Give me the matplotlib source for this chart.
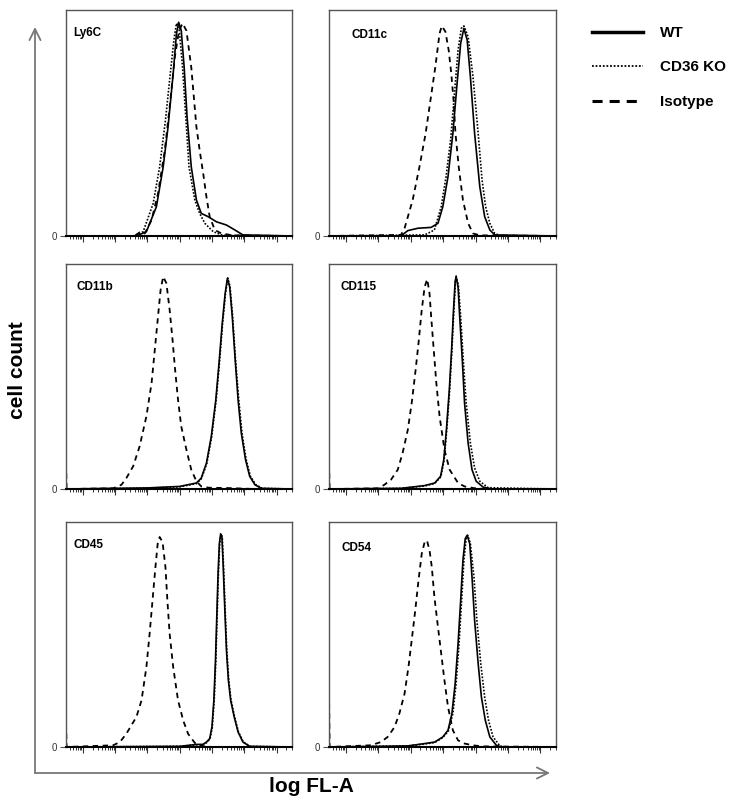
import numpy as np
import matplotlib
matplotlib.use("Agg")
from matplotlib import pyplot as plt
from matplotlib.lines import Line2D
from matplotlib.ticker import LogLocator, NullFormatter

plt.rcParams['font.family'] = ['Liberation Sans', 'DejaVu Sans']

# x values are log10 fluorescence, y values are relative cell count
LY6C_WT_X = [-0.52, 1.66, 1.97, 2.28, 2.49, 2.64, 2.80, 2.90, 2.97, 3.05, 3.14, 3.23, 3.36, 3.52, 3.67, 3.88, 4.14, 4.45, 4.71, 4.96, 6.48]
LY6C_WT_Y = [0, 0, 0.02, 0.136, 0.321, 0.506, 0.754, 0.939, 0.993, 0.954, 0.784, 0.553, 0.321, 0.167, 0.105, 0.090, 0.066, 0.051, 0.028, 0.005, 0]
LY6C_KO_X = [-0.52, 1.56, 1.87, 2.18, 2.38, 2.56, 2.71, 2.82, 2.90, 2.98, 3.09, 3.19, 3.29, 3.47, 3.62, 3.78, 4.04, 4.34, 6.48]
LY6C_KO_Y = [0, 0, 0.02, 0.151, 0.321, 0.537, 0.754, 0.908, 0.988, 0.97, 0.784, 0.553, 0.321, 0.167, 0.105, 0.059, 0.02, 0.003, 0]
LY6C_ISO_X = [-0.52, 1.61, 1.76, 1.92, 2.13, 2.33, 2.54, 2.69, 2.85, 2.98, 3.09, 3.21, 3.36, 3.52, 3.62, 3.73, 3.83, 3.93, 4.09, 4.29, 4.65, 6.48]
LY6C_ISO_Y = [0, 0, 0.017, 0.012, 0.074, 0.198, 0.398, 0.599, 0.831, 0.954, 0.988, 0.954, 0.784, 0.506, 0.398, 0.290, 0.182, 0.090, 0.028, 0.012, 0.003, 0]

CD11C_WT_X = [-0.52, 1.70, 1.91, 2.22, 2.63, 2.84, 2.99, 3.15, 3.30, 3.43, 3.54, 3.64, 3.74, 3.84, 3.97, 4.13, 4.28, 4.44, 4.59, 6.48]
CD11C_WT_Y = [0, 0, 0.025, 0.036, 0.040, 0.059, 0.136, 0.276, 0.477, 0.709, 0.895, 0.965, 0.911, 0.740, 0.477, 0.229, 0.090, 0.028, 0.005, 0]
CD11C_KO_X = [-0.52, 2.43, 2.73, 2.94, 3.09, 3.23, 3.35, 3.46, 3.56, 3.64, 3.77, 3.92, 4.08, 4.20, 4.31, 4.44, 4.59, 4.75, 6.48]
CD11C_KO_Y = [0, 0.005, 0.028, 0.136, 0.276, 0.446, 0.663, 0.864, 0.965, 0.976, 0.926, 0.740, 0.477, 0.260, 0.136, 0.059, 0.012, 0.002, 0]
CD11C_ISO_X = [-0.52, 1.70, 1.81, 2.06, 2.27, 2.46, 2.61, 2.76, 2.89, 2.96, 3.07, 3.17, 3.25, 3.32, 3.38, 3.48, 3.61, 3.77, 3.92, 4.13, 6.48]
CD11C_ISO_Y = [0, 0.005, 0.036, 0.167, 0.322, 0.477, 0.632, 0.787, 0.942, 0.976, 0.949, 0.864, 0.756, 0.632, 0.477, 0.322, 0.167, 0.059, 0.012, 0.003, 0]

CD11B_WT_X = [-0.52, 2.0, 3.0, 3.52, 3.67, 3.83, 3.98, 4.12, 4.22, 4.32, 4.41, 4.48, 4.55, 4.63, 4.72, 4.81, 4.91, 5.04, 5.17, 5.33, 5.53, 6.48]
CD11B_WT_Y = [0, 0.005, 0.012, 0.028, 0.051, 0.121, 0.245, 0.416, 0.587, 0.774, 0.913, 0.983, 0.944, 0.805, 0.603, 0.416, 0.261, 0.137, 0.059, 0.020, 0.003, 0]
CD11B_KO_X = [-0.52, 2.0, 3.0, 3.52, 3.67, 3.84, 3.99, 4.13, 4.23, 4.33, 4.42, 4.49, 4.56, 4.64, 4.73, 4.83, 4.93, 5.06, 5.19, 5.36, 5.56, 6.48]
CD11B_KO_Y = [0, 0.004, 0.010, 0.025, 0.048, 0.118, 0.242, 0.414, 0.585, 0.772, 0.912, 0.985, 0.945, 0.806, 0.605, 0.418, 0.262, 0.138, 0.060, 0.020, 0.003, 0]
CD11B_ISO_X = [-0.52, -0.50, 0.94, 1.20, 1.35, 1.56, 1.76, 1.97, 2.13, 2.23, 2.33, 2.41, 2.49, 2.59, 2.69, 2.78, 2.85, 2.95, 3.05, 3.21, 3.36, 3.52, 3.67, 3.90, 4.60, 5.30, 6.48]
CD11B_ISO_Y = [0.12, 0, 0.003, 0.020, 0.051, 0.106, 0.199, 0.339, 0.494, 0.649, 0.805, 0.929, 0.991, 0.960, 0.836, 0.696, 0.572, 0.416, 0.292, 0.183, 0.090, 0.036, 0.012, 0.006, 0.004, 0, 0]

CD115_WT_X = [-0.52, 1.70, 2.43, 2.74, 2.92, 3.02, 3.10, 3.19, 3.26, 3.32, 3.37, 3.40, 3.46, 3.51, 3.59, 3.66, 3.77, 3.89, 4.02, 4.23, 4.50, 6.48]
CD115_WT_Y = [0, 0.003, 0.016, 0.028, 0.059, 0.137, 0.276, 0.463, 0.649, 0.836, 0.968, 0.991, 0.944, 0.805, 0.603, 0.401, 0.214, 0.090, 0.036, 0.009, 0, 0]
CD115_KO_X = [-0.52, 1.70, 2.43, 2.74, 2.93, 3.03, 3.11, 3.20, 3.27, 3.33, 3.38, 3.40, 3.47, 3.54, 3.62, 3.71, 3.84, 3.97, 4.13, 4.39, 6.48]
CD115_KO_Y = [0, 0.003, 0.014, 0.026, 0.057, 0.135, 0.274, 0.461, 0.647, 0.834, 0.966, 0.994, 0.950, 0.805, 0.603, 0.401, 0.214, 0.098, 0.036, 0.006, 0]
CD115_ISO_X = [-0.52, -0.50, 1.00, 1.19, 1.39, 1.60, 1.75, 1.91, 2.03, 2.14, 2.24, 2.34, 2.43, 2.51, 2.58, 2.63, 2.71, 2.79, 2.89, 3.04, 3.20, 3.46, 3.66, 3.95, 4.30, 6.48]
CD115_ISO_Y = [0.12, 0, 0.003, 0.020, 0.043, 0.090, 0.168, 0.276, 0.401, 0.541, 0.680, 0.836, 0.944, 0.979, 0.913, 0.805, 0.649, 0.494, 0.339, 0.183, 0.090, 0.028, 0.012, 0.004, 0, 0]

CD45_WT_X = [-0.52, 3.00, 3.52, 3.72, 3.83, 3.93, 4.00, 4.06, 4.11, 4.15, 4.19, 4.23, 4.27, 4.31, 4.35, 4.40, 4.45, 4.51, 4.58, 4.69, 4.81, 4.96, 5.17, 6.48]
CD45_WT_Y = [0, 0.003, 0.012, 0.012, 0.023, 0.039, 0.093, 0.218, 0.404, 0.607, 0.809, 0.949, 0.995, 0.980, 0.840, 0.638, 0.451, 0.311, 0.218, 0.140, 0.070, 0.023, 0.003, 0]
CD45_KO_X = [-0.52, 3.00, 3.53, 3.73, 3.84, 3.94, 4.01, 4.07, 4.12, 4.16, 4.20, 4.24, 4.28, 4.32, 4.36, 4.41, 4.46, 4.52, 4.59, 4.70, 4.82, 4.97, 5.18, 6.48]
CD45_KO_Y = [0, 0.003, 0.010, 0.011, 0.021, 0.037, 0.090, 0.215, 0.402, 0.605, 0.807, 0.948, 0.995, 0.981, 0.842, 0.640, 0.453, 0.313, 0.220, 0.142, 0.071, 0.024, 0.003, 0]
CD45_ISO_X = [-0.52, -0.50, 0.94, 1.15, 1.35, 1.66, 1.82, 1.97, 2.07, 2.16, 2.25, 2.32, 2.38, 2.47, 2.56, 2.62, 2.69, 2.80, 2.95, 3.11, 3.26, 3.47, 3.67, 4.00, 6.48]
CD45_ISO_Y = [0.11, 0, 0.008, 0.023, 0.062, 0.140, 0.218, 0.373, 0.529, 0.684, 0.840, 0.949, 0.980, 0.957, 0.840, 0.684, 0.529, 0.373, 0.218, 0.124, 0.062, 0.019, 0.005, 0, 0]

CD54_WT_X = [-0.52, 1.91, 2.43, 2.74, 2.99, 3.15, 3.27, 3.37, 3.46, 3.54, 3.61, 3.68, 3.74, 3.82, 3.89, 3.97, 4.08, 4.18, 4.30, 4.44, 4.64, 4.80, 6.48]
CD54_WT_Y = [0, 0.005, 0.016, 0.023, 0.047, 0.078, 0.156, 0.296, 0.482, 0.684, 0.871, 0.972, 0.988, 0.949, 0.793, 0.591, 0.389, 0.233, 0.124, 0.047, 0.008, 0, 0]
CD54_KO_X = [-0.52, 1.91, 2.43, 2.74, 2.99, 3.16, 3.30, 3.40, 3.49, 3.57, 3.64, 3.71, 3.76, 3.84, 3.95, 4.04, 4.16, 4.28, 4.40, 4.54, 4.75, 4.90, 6.48]
CD54_KO_Y = [0, 0.005, 0.014, 0.021, 0.044, 0.075, 0.156, 0.296, 0.482, 0.684, 0.871, 0.972, 0.988, 0.949, 0.793, 0.591, 0.389, 0.233, 0.124, 0.047, 0.005, 0, 0]
CD54_ISO_X = [-0.52, -0.50, 0.77, 1.08, 1.29, 1.50, 1.65, 1.81, 1.93, 2.03, 2.14, 2.24, 2.34, 2.43, 2.50, 2.58, 2.65, 2.73, 2.84, 2.94, 3.04, 3.15, 3.30, 3.46, 3.66, 3.92, 4.18, 6.48]
CD54_ISO_Y = [0.25, 0, 0.008, 0.023, 0.047, 0.093, 0.156, 0.249, 0.373, 0.498, 0.638, 0.778, 0.902, 0.957, 0.964, 0.918, 0.840, 0.700, 0.560, 0.436, 0.311, 0.187, 0.078, 0.031, 0.016, 0.008, 0.003, 0]

MARKERS = ["Ly6C", "CD11c", "CD11b", "CD115", "CD45", "CD54"]
SERIES = ["WT", "CD36 KO", "Isotype"]

PANELS = [
    (LY6C_WT_X, LY6C_WT_Y, LY6C_KO_X, LY6C_KO_Y, LY6C_ISO_X, LY6C_ISO_Y),
    (CD11C_WT_X, CD11C_WT_Y, CD11C_KO_X, CD11C_KO_Y, CD11C_ISO_X, CD11C_ISO_Y),
    (CD11B_WT_X, CD11B_WT_Y, CD11B_KO_X, CD11B_KO_Y, CD11B_ISO_X, CD11B_ISO_Y),
    (CD115_WT_X, CD115_WT_Y, CD115_KO_X, CD115_KO_Y, CD115_ISO_X, CD115_ISO_Y),
    (CD45_WT_X, CD45_WT_Y, CD45_KO_X, CD45_KO_Y, CD45_ISO_X, CD45_ISO_Y),
    (CD54_WT_X, CD54_WT_Y, CD54_KO_X, CD54_KO_Y, CD54_ISO_X, CD54_ISO_Y),
]

W, H = 742, 810
LOG_MIN, LOG_MAX = -0.52, 6.48

# panel boxes in pixels: left, top, width, height
COL_LEFT = [66, 329]
COL_WIDTH = [226, 227]
ROW_TOP = [10, 264, 522]
ROW_HEIGHT = [226, 225, 225]
LABEL_POS = [(0.03, 0.90), (0.10, 0.89), (0.045, 0.90), (0.05, 0.90), (0.035, 0.90), (0.057, 0.885)]

STYLE_WT = dict(color='black', lw=1.2, ls='-')
STYLE_KO = dict(color='black', lw=1.2, ls=(0, (1, 1)))
STYLE_ISO = dict(color='black', lw=1.3, ls=(0, (3, 2.5)))


def panel(fig, idx):
    r, c = divmod(idx, 2)
    left = COL_LEFT[c] / W
    bottom = 1 - (ROW_TOP[r] + ROW_HEIGHT[r]) / H
    ax = fig.add_axes([left, bottom, COL_WIDTH[c] / W, ROW_HEIGHT[r] / H])

    wx, wy, kx, ky, ix, iy = PANELS[idx]
    ax.plot(10 ** np.array(ix), iy, **STYLE_ISO)
    ax.plot(10 ** np.array(kx), ky, **STYLE_KO)
    ax.plot(10 ** np.array(wx), wy, **STYLE_WT)

    ax.set_xscale('log')
    ax.set_xlim(10 ** LOG_MIN, 10 ** LOG_MAX)
    ax.set_ylim(0, 1.05)
    ax.xaxis.set_major_locator(LogLocator(base=10, numticks=20))
    ax.xaxis.set_minor_locator(LogLocator(base=10, subs=np.arange(2, 10), numticks=100))
    ax.xaxis.set_major_formatter(NullFormatter())
    ax.xaxis.set_minor_formatter(NullFormatter())
    ax.tick_params(axis='x', which='major', direction='out', length=4, width=0.8, color='#333')
    ax.tick_params(axis='x', which='minor', direction='out', length=2.2, width=0.7, color='#333')
    ax.set_yticks([0])
    ax.set_yticklabels(['0'])
    ax.tick_params(axis='y', length=4.5, width=0.8, color='#555', labelsize=7, labelcolor='#333', pad=2)

    for s in ['left', 'top', 'right']:
        ax.spines[s].set_color('#555')
        ax.spines[s].set_linewidth(1.0)
    ax.spines['bottom'].set_color('black')
    ax.spines['bottom'].set_linewidth(1.5)

    lx, ly = LABEL_POS[idx]
    ax.text(lx, ly, MARKERS[idx], transform=ax.transAxes, fontsize=8.5,
            fontweight='bold', ha='left', va='center')
    return ax


fig = plt.figure(figsize=(W / 100, H / 100), dpi=100)

bg = fig.add_axes([0, 0, 1, 1])
bg.set_xlim(0, W)
bg.set_ylim(H, 0)
bg.axis('off')
arrow = dict(arrowstyle='->', color='#777', lw=1.3, mutation_scale=20, shrinkA=0, shrinkB=0)
bg.annotate('', xy=(35, 27), xytext=(35, 773), arrowprops=arrow)
bg.annotate('', xy=(550, 773), xytext=(35, 773), arrowprops=arrow)

for i in range(6):
    panel(fig, i)

fig.text(18 / W, 1 - 370 / H, 'cell count', rotation=90, ha='center', va='center',
         fontsize=15, fontweight='bold')
fig.text(311 / W, 1 - 787 / H, 'log FL-A', ha='center', va='center',
         fontsize=15, fontweight='bold')

handles = [
    Line2D([], [], color='black', lw=2.5, ls='-'),
    Line2D([], [], color='black', lw=1.3, ls=(0, (1, 1))),
    Line2D([], [], color='black', lw=2.2, ls=(0, (3.3, 2.3))),
]
leg = fig.legend(handles, SERIES, loc='upper left', bbox_to_anchor=(592 / W, 1 - 26 / H),
                 frameon=False, borderpad=0, borderaxespad=0, handlelength=3.34,
                 handletextpad=1.1, labelspacing=1.34, prop=dict(size=11, weight='bold'))

fig.savefig('out.png', dpi=100)
